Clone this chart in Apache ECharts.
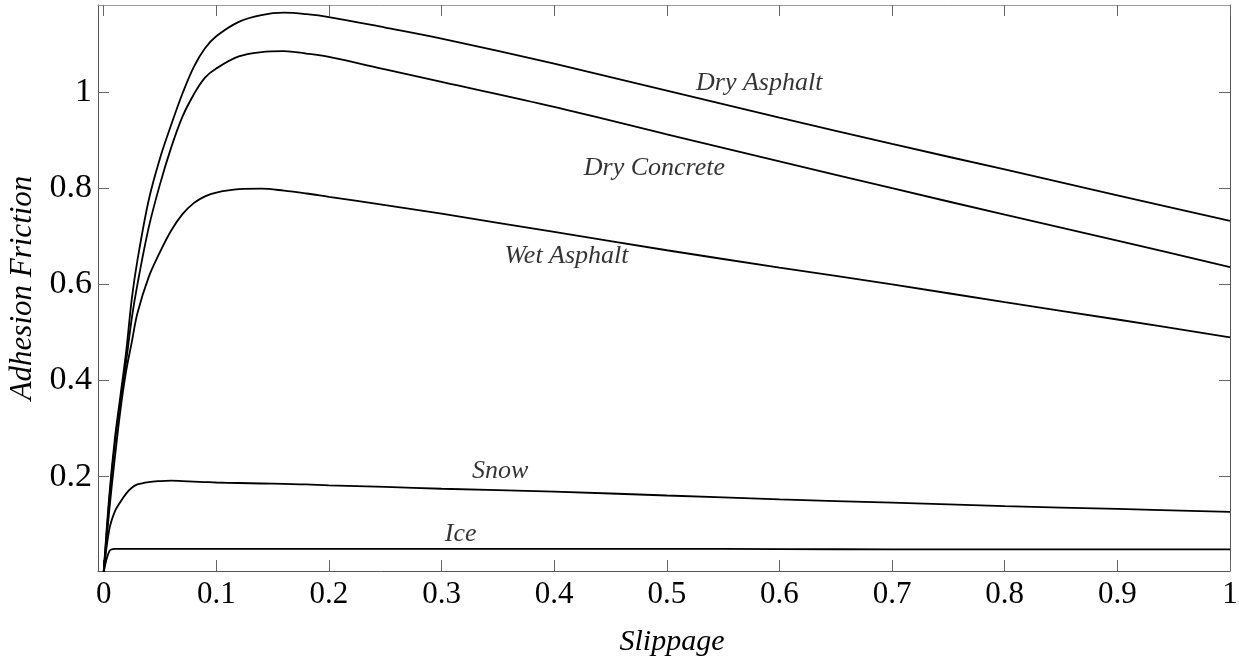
<!DOCTYPE html>
<html>
<head>
<meta charset="utf-8">
<script src="https://cdn.jsdelivr.net/npm/echarts@6/dist/echarts.min.js"></script>
<style>
  html, body { margin: 0; padding: 0; background: #fff; }
  #main { width: 1239px; height: 659px; }
</style>
</head>
<body>
<div id="main"></div>
<script>
const slip = [0, 0.005, 0.01, 0.015, 0.02, 0.025, 0.03, 0.04, 0.05, 0.06, 0.07, 0.08, 0.09, 0.1,
  0.12, 0.14, 0.16, 0.18, 0.2, 0.25, 0.3, 0.4, 0.5, 0.6, 0.7, 0.8, 0.9, 1.0];

// adhesion friction for each surface
const dryAsphalt = [0, 0.16, 0.28, 0.37, 0.46, 0.57, 0.65, 0.775, 0.862, 0.932, 0.997, 1.052, 1.091, 1.116,
  1.146, 1.160, 1.165, 1.162, 1.156, 1.134, 1.111, 1.059, 1.003, 0.947, 0.892, 0.839, 0.785, 0.732];
const dryConcrete = [0, 0.15, 0.27, 0.36, 0.44, 0.53, 0.60, 0.718, 0.808, 0.885, 0.949, 0.995, 1.030, 1.049,
  1.074, 1.083, 1.085, 1.080, 1.073, 1.047, 1.021, 0.969, 0.912, 0.856, 0.800, 0.745, 0.691, 0.636];
const wetAsphalt = [0, 0.13, 0.24, 0.34, 0.42, 0.48, 0.54, 0.615, 0.667, 0.712, 0.746, 0.769, 0.783, 0.791,
  0.798, 0.799, 0.795, 0.789, 0.782, 0.765, 0.747, 0.709, 0.671, 0.635, 0.600, 0.563, 0.527, 0.490];
const snow = [0, 0.09, 0.128, 0.148, 0.165, 0.177, 0.184, 0.189, 0.191, 0.192, 0.191, 0.190, 0.189, 0.188,
  0.187, 0.186, 0.185, 0.184, 0.182, 0.179, 0.175, 0.169, 0.161, 0.153, 0.146, 0.139, 0.133, 0.127];
const ice = [0, 0.045, 0.05, 0.05, 0.05, 0.05, 0.05, 0.05, 0.05, 0.05, 0.05, 0.05, 0.05, 0.05,
  0.05, 0.05, 0.05, 0.05, 0.05, 0.05, 0.05, 0.05, 0.05, 0.0495, 0.049, 0.049, 0.049, 0.049];

const xTicks = [0, 0.1, 0.2, 0.3, 0.4, 0.5, 0.6, 0.7, 0.8, 0.9, 1];
const yTicks = [0.2, 0.4, 0.6, 0.8, 1];

// curve names and where they sit (slippage, friction)
const labelNames = ['Dry Asphalt', 'Dry Concrete', 'Wet Asphalt', 'Snow', 'Ice'];
const labelSlip = [0.582, 0.489, 0.411, 0.352, 0.317];
const labelMu = [1.019, 0.841, 0.659, 0.212, 0.080];

const font = 'Liberation Serif';
const frame = '#555';

const zip = (ys) => slip.map((s, i) => [s, ys[i]]);

const curve = (name, ys) => ({
  name: name,
  type: 'line',
  data: zip(ys),
  showSymbol: false,
  smooth: 0.35,
  lineStyle: { color: '#000', width: 1.8 },
  silent: true
});

const xBase = {
  type: 'value', min: -0.005, max: 1,
  axisLine: { show: true, onZero: false, lineStyle: { color: frame } },
  splitLine: { show: false },
  axisTick: { inside: true, length: 11, customValues: xTicks, lineStyle: { color: '#666' } }
};
const yBase = {
  type: 'value', min: 0.004, max: 1.181,
  axisLine: { show: true, onZero: false, lineStyle: { color: frame } },
  splitLine: { show: false },
  axisTick: { inside: true, length: 11, customValues: yTicks, lineStyle: { color: '#666' } }
};

var myChart = echarts.init(document.getElementById('main'));
myChart.setOption({
  backgroundColor: '#fff',
  animation: false,
  grid: { left: 98, right: 9, top: 5, bottom: 88, containLabel: false, outerBoundsMode: 'none' },
  xAxis: [
    Object.assign({}, xBase, {
      position: 'bottom',
      name: 'Slippage',
      nameLocation: 'middle',
      nameGap: 56,
      nameTextStyle: { fontFamily: font, fontStyle: 'italic', fontSize: 30, color: '#000', padding: [0, 0, 0, 16] },
      axisLabel: { customValues: xTicks, margin: 8, fontFamily: font, fontSize: 31, color: '#000',
        formatter: (v) => String(v) }
    }),
    Object.assign({}, xBase, { position: 'top', axisLabel: { show: false },
      axisLine: { show: true, onZero: false, lineStyle: { color: '#999' } } })
  ],
  yAxis: [
    Object.assign({}, yBase, {
      position: 'left',
      name: 'Adhesion Friction',
      nameLocation: 'middle',
      nameGap: 60,
      nameTextStyle: { fontFamily: font, fontStyle: 'italic', fontSize: 31, color: '#000', padding: [0, 0, 0, 0] },
      axisLabel: { customValues: yTicks, margin: 6, fontFamily: font, fontSize: 34, color: '#000',
        formatter: (v) => String(v) }
    }),
    Object.assign({}, yBase, { position: 'right', axisLabel: { show: false } })
  ],
  series: [
    curve('Dry Asphalt', dryAsphalt),
    curve('Dry Concrete', dryConcrete),
    curve('Wet Asphalt', wetAsphalt),
    curve('Snow', snow),
    curve('Ice', ice),
    {
      type: 'scatter',
      symbolSize: 0,
      silent: true,
      data: labelNames.map((n, i) => ({ value: [labelSlip[i], labelMu[i]], name: n })),
      label: {
        show: true,
        position: 'inside',
        formatter: (p) => p.name,
        fontFamily: font,
        fontStyle: 'italic',
        fontSize: 26,
        color: '#000'
      }
    }
  ]
});
</script>
</body>
</html>
